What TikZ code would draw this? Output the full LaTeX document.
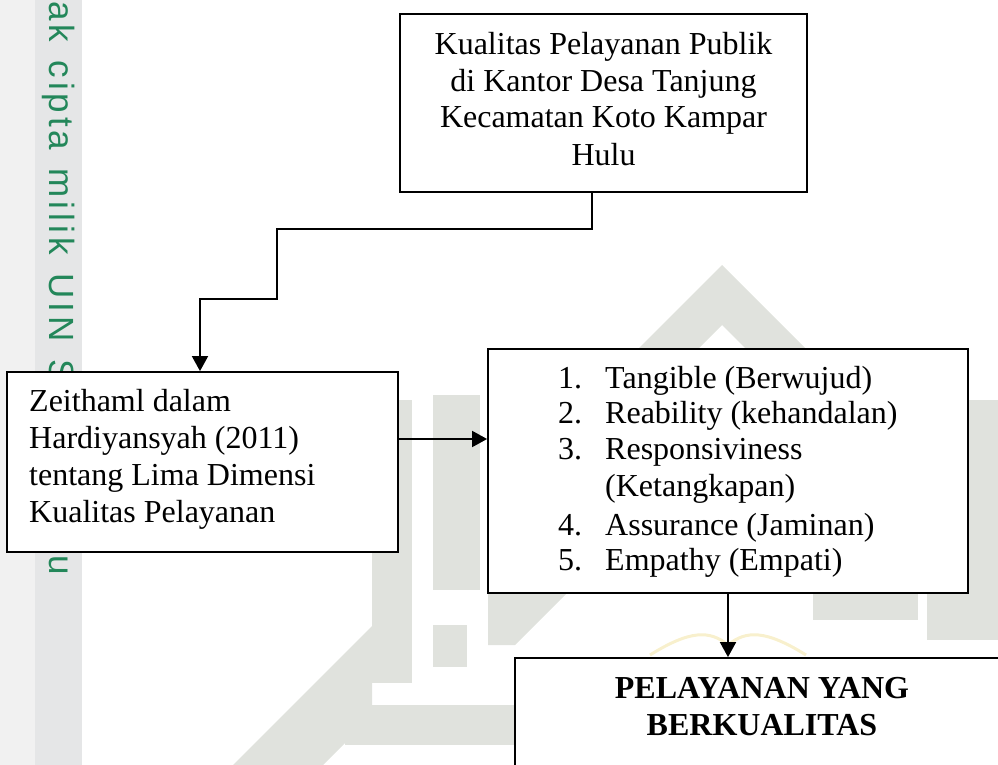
\documentclass[tikz,border=0pt]{standalone}
\usepackage{fontspec}
\setmainfont{Liberation Serif}
\newfontfamily\wmfont{Liberation Sans}[LetterSpace=11.4, WordSpace=1.34]
\usetikzlibrary{arrows.meta}
\definecolor{wmgrey}{RGB}{224,226,221}
\definecolor{wmgreen}{RGB}{35,135,90}
\definecolor{stripA}{RGB}{241,241,241}
\definecolor{stripB}{RGB}{229,230,231}
\definecolor{wmgold}{RGB}{248,240,205}
\begin{document}
\begin{tikzpicture}[x=1pt,y=-1pt,
  box/.style={draw=black, line width=1.8pt, fill=white, rectangle, inner sep=0pt},
  txt/.style={inner sep=0pt, font=\fontsize{32}{36.7}\selectfont},
  btxt/.style={inner sep=0pt, font=\fontsize{32}{36.7}\selectfont\bfseries},
  conn/.style={line width=1.8pt, -{Triangle[length=15pt,width=16pt]}},
  wm/.style={fill=wmgrey, draw=none}]
\useasboundingbox (0,0) rectangle (998,765);
\clip (0,0) rectangle (998,765);
% left strip with watermark text
\fill[stripA] (0,0) rectangle (35,765);
\fill[stripB] (35,0) rectangle (82,765);
\node[rotate=-90, anchor=base west, inner sep=0pt, text=wmgreen,
      font=\wmfont\fontsize{35}{40}\selectfont] (wmtext) at (49,1) {ak cipta milik UIN Suska Riau};
% background logo (faint)
\fill[wm] (722,265) -- (877,420) -- (817,420) -- (722,325) -- (627,420) -- (567,420) -- cycle;
\fill[wm] (433,395) rectangle (480,590);
\fill[wm] (964,400) rectangle (998,640);
\fill[wm] (372,400) rectangle (412,683);
\fill[wm] (233,765) -- (372,626) -- (372,716) -- (323,765) -- cycle;
\fill[wm] (345,705) rectangle (520,745);
\fill[wm] (488,593) -- (567,593) -- (515,645) -- (488,645) -- cycle;
\fill[wm] (433,625) rectangle (467,667);
\fill[wm] (813,593) rectangle (918,620);
\fill[wm] (927,593) rectangle (998,640);
\draw[wmgold, line width=3pt] (650,655) .. controls (690,630) and (710,630) .. (728,645)
      .. controls (746,630) and (766,630) .. (806,655);
% boxes
\node[box, minimum width=407pt, minimum height=178pt] (top) at (603.5,103) {};
\node[box, minimum width=391pt, minimum height=180pt] (left) at (202.5,462) {};
\node[box, minimum width=480pt, minimum height=244pt] (list) at (728,471) {};
\node[box, minimum width=520pt, minimum height=160pt] (bot) at (775,738) {};
% top text
\node[txt, anchor=base] (t1) at (603.5,55) {Kualitas Pelayanan Publik};
\node[txt, anchor=base] (t2) at (603.5,92) {di Kantor Desa Tanjung};
\node[txt, anchor=base] (t3) at (603.5,128) {Kecamatan Koto Kampar};
\node[txt, anchor=base] (t4) at (603.5,165) {Hulu};
% left text
\node[txt, anchor=base west] (l1) at (29,411) {Zeithaml dalam};
\node[txt, anchor=base west] (l2) at (29,448) {Hardiyansyah (2011)};
\node[txt, anchor=base west] (l3) at (29,485) {tentang Lima Dimensi};
\node[txt, anchor=base west] (l4) at (29,522) {Kualitas Pelayanan};
% list text
\node[txt, anchor=base west] (n1) at (558,388) {1.};
\node[txt, anchor=base west] (i1) at (605,388) {Tangible (Berwujud)};
\node[txt, anchor=base west] (n2) at (558,423) {2.};
\node[txt, anchor=base west] (i2) at (605,423) {Reability (kehandalan)};
\node[txt, anchor=base west] (n3) at (558,459) {3.};
\node[txt, anchor=base west] (i3) at (605,459) {Responsiviness};
\node[txt, anchor=base west] (i3b) at (605,496) {(Ketangkapan)};
\node[txt, anchor=base west] (n4) at (558,535) {4.};
\node[txt, anchor=base west] (i4) at (605,535) {Assurance (Jaminan)};
\node[txt, anchor=base west] (n5) at (558,570) {5.};
\node[txt, anchor=base west] (i5) at (605,570) {Empathy (Empati)};
% bottom text
\node[btxt, anchor=base] (b1) at (762,698) {PELAYANAN YANG};
\node[btxt, anchor=base] (b2) at (762,735) {BERKUALITAS};
% connectors
\coordinate (p1) at (592,229);
\coordinate (p2) at (277,229);
\coordinate (p3) at (277,299);
\coordinate (p4) at (200,299);
\draw[conn] (top.south -| p1) -- (p1) -- (p2) -- (p3) -- (p4) -- (left.north -| p4);
\coordinate (ya) at (0,439);
\draw[conn] (left.east |- ya) -- (list.west |- ya);
\draw[conn] (list.south) -- (bot.north -| list.south);
\end{tikzpicture}
\end{document}
